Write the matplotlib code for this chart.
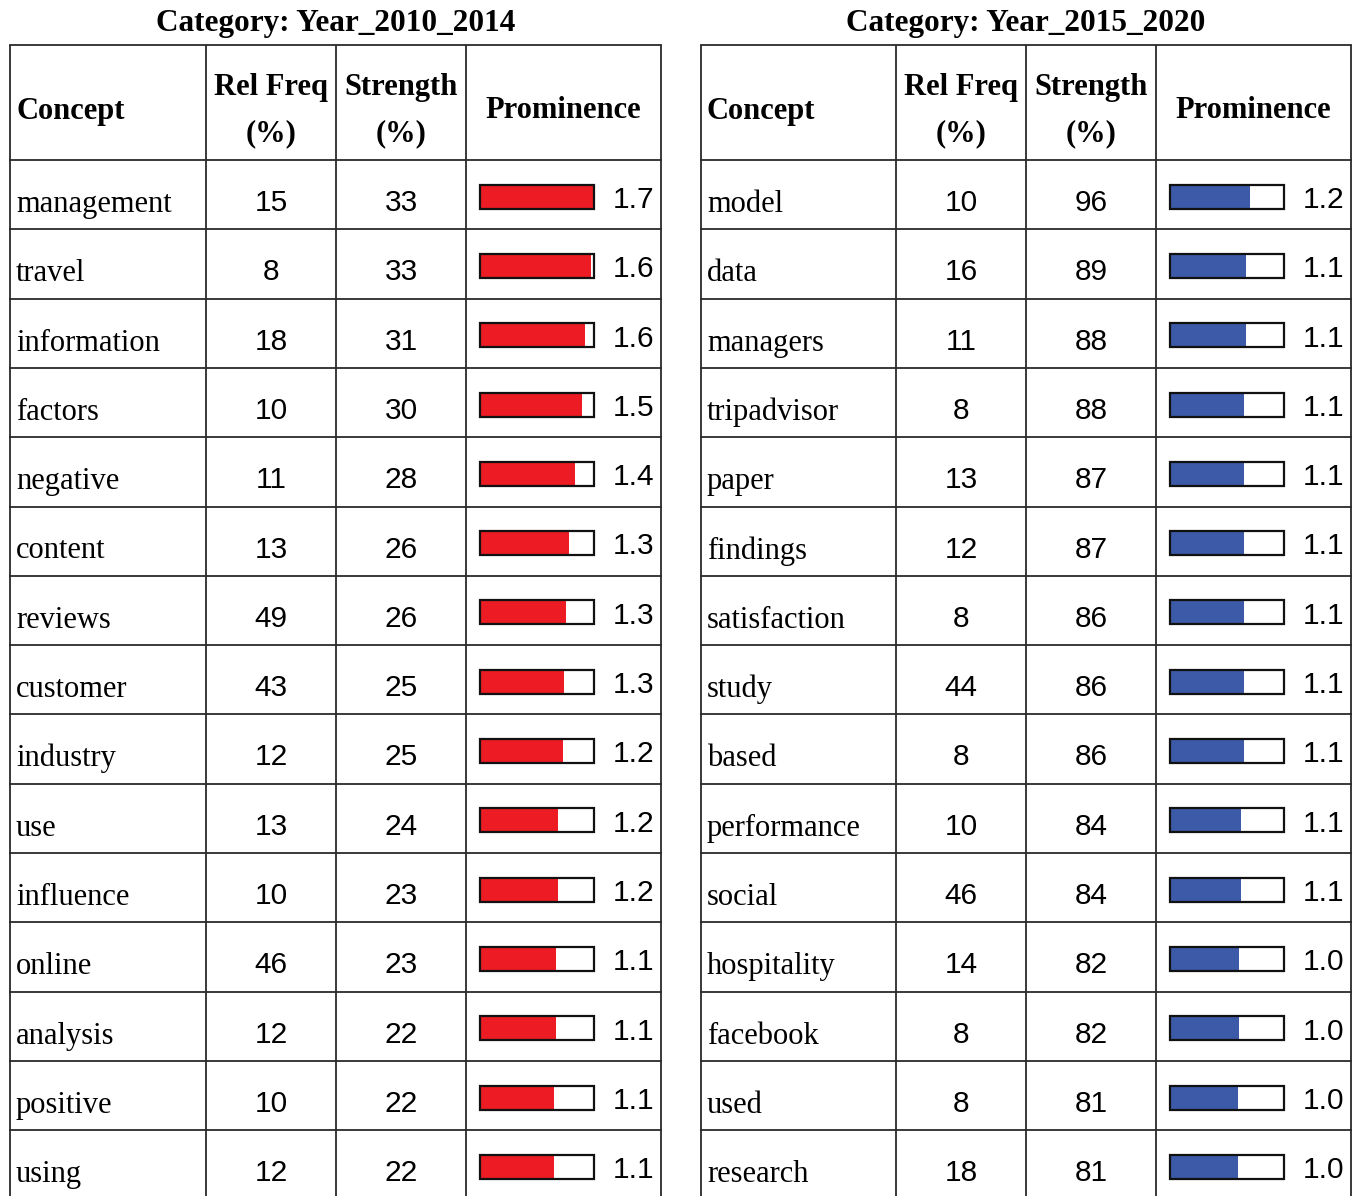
import matplotlib
matplotlib.use("Agg")
import matplotlib.pyplot as plt

# ---- data ----
concepts_a = ["management", "travel", "information", "factors", "negative", "content",
              "reviews", "customer", "industry", "use", "influence", "online",
              "analysis", "positive", "using"]
relfreq_a = [15, 8, 18, 10, 11, 13, 49, 43, 12, 13, 10, 46, 12, 10, 12]
strength_a = [33, 33, 31, 30, 28, 26, 26, 25, 25, 24, 23, 23, 22, 22, 22]
prominence_a = [1.70, 1.649, 1.57, 1.52, 1.41, 1.33, 1.28, 1.26, 1.24, 1.16, 1.16, 1.14,
                1.13, 1.10, 1.10]

concepts_b = ["model", "data", "managers", "tripadvisor", "paper", "findings",
              "satisfaction", "study", "based", "performance", "social", "hospitality",
              "facebook", "used", "research"]
relfreq_b = [10, 16, 11, 8, 13, 12, 8, 44, 8, 10, 46, 14, 8, 8, 18]
strength_b = [96, 89, 88, 88, 87, 87, 86, 86, 86, 84, 84, 82, 82, 81, 81]
prominence_b = [1.20, 1.14, 1.14, 1.11, 1.11, 1.11, 1.10, 1.10, 1.10, 1.06, 1.06, 1.03,
                1.03, 1.02, 1.02]

titles = ["Category: Year_2010_2014", "Category: Year_2015_2020"]
bar_colors = ["#ed1c24", "#3c5aa8"]
PROM_MAX = 1.7

W, H = 1357, 1196
DPI = 100
SERIF = "Liberation Serif"
SANS = "Liberation Sans"
LINE = "#2a2a2a"

HEAD_TOP = 45
ROW0 = 160
ROW_H = 69.3

fig = plt.figure(figsize=(W / DPI, H / DPI), dpi=DPI)
fig.patch.set_facecolor("white")
ax = fig.add_axes([0, 0, 1, 1])
ax.set_xlim(0, W)
ax.set_ylim(H, 0)
ax.axis("off")


def draw_table(cols, title, concepts, relfreq, strength, prom, color):
    x0, x1, x2, x3, x4 = cols
    n = len(concepts)
    # title
    ax.text((x0 + x4) / 2, 23, title, ha="center", va="center",
            fontsize=22.5, fontweight="bold", family=SERIF)
    # grid lines
    bottom = ROW0 + ROW_H * n + 5
    for x in cols:
        ax.plot([x, x], [HEAD_TOP, bottom], color=LINE, lw=1.3, solid_capstyle="butt")
    ax.plot([x0, x4], [HEAD_TOP, HEAD_TOP], color=LINE, lw=1.3)
    for i in range(n):
        y = ROW0 + ROW_H * i
        ax.plot([x0, x4], [y, y], color=LINE, lw=1.3)

    # header
    hkw = dict(fontsize=22, fontweight="bold", family=SERIF)
    ax.text(x0 + 6, 111, "Concept", ha="left", va="center", **hkw)
    ax.text((x1 + x2) / 2, 88, "Rel Freq", ha="center", va="center", **hkw)
    ax.text((x1 + x2) / 2, 134, "(%)", ha="center", va="center", **hkw)
    ax.text((x2 + x3) / 2, 88, "Strength", ha="center", va="center", **hkw)
    ax.text((x2 + x3) / 2, 134, "(%)", ha="center", va="center", **hkw)
    ax.text((x3 + x4) / 2, 111, "Prominence", ha="center", va="center", **hkw)

    # rows
    for i in range(n):
        top = ROW0 + ROW_H * i
        ax.text(x0 + 6, top + 52, concepts[i], ha="left", va="baseline",
                fontsize=22, family=SERIF)
        ax.text((x1 + x2) / 2, top + 43, str(relfreq[i]), ha="center", va="center",
                fontsize=21.5, family=SANS)
        ax.text((x2 + x3) / 2, top + 43, str(strength[i]), ha="center", va="center",
                fontsize=21.5, family=SANS)
        ax.text(x3 + 147, top + 40, f"{prom[i]:.1f}", ha="left", va="center",
                fontsize=21.5, family=SANS)

    # data bars in their own axes, x scale = prominence
    bx0, bx1 = x3 + 14, x3 + 128
    span_rows = (H - ROW0) / ROW_H
    bax = fig.add_axes([bx0 / W, 0, (bx1 - bx0) / W, (H - ROW0) / H])
    off = 2 / ROW_H
    bax.set_ylim(span_rows - 0.5 - off, -0.5 - off)
    bax.set_xlim(0, PROM_MAX)
    bax.axis("off")
    rows = list(range(n))
    bh = 24 / ROW_H
    bax.barh(rows, [PROM_MAX] * n, height=bh, color="white", edgecolor="none")
    bax.barh(rows, prom, height=bh, color=color, edgecolor="none")
    bax.barh(rows, [PROM_MAX] * n, height=bh, color="none", edgecolor="#111111",
             linewidth=1.6, clip_on=False)


draw_table([10, 206, 336, 466, 661], titles[0], concepts_a, relfreq_a, strength_a,
           prominence_a, bar_colors[0])
draw_table([701, 896, 1026, 1156, 1351], titles[1], concepts_b, relfreq_b, strength_b,
           prominence_b, bar_colors[1])

fig.savefig("out.png", dpi=DPI)
